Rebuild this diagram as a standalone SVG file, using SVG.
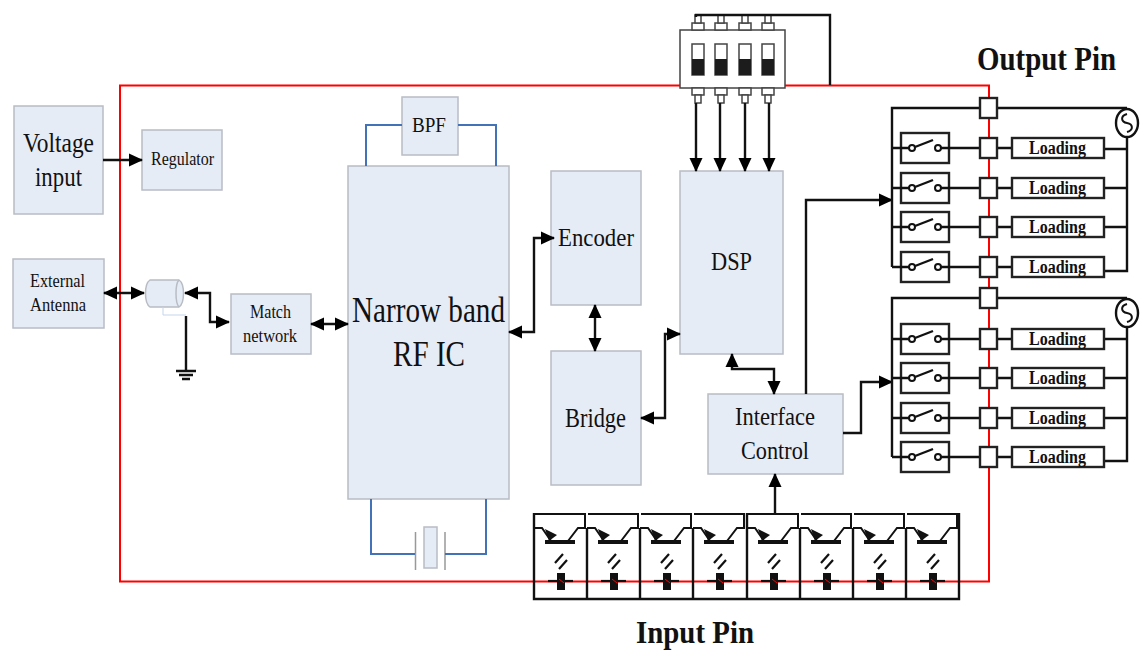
<svg xmlns="http://www.w3.org/2000/svg" xmlns:xlink="http://www.w3.org/1999/xlink" width="1140" height="650" viewBox="0 0 1140 650">
<style>
text{font-family:"Liberation Serif","Times New Roman",serif;fill:#111}
.b{fill:#e6ecf6;stroke:#b8bcc4;stroke-width:1.5}
.w{fill:none;stroke:#111;stroke-width:2.4}
.blue{fill:none;stroke:#4472b8;stroke-width:2}
.m{fill:#fff;stroke:#222;stroke-width:2.4}
.h{font-weight:bold}
.t{fill:none;stroke:#111;stroke-width:2}
</style>
<defs>
<marker id="a" markerUnits="userSpaceOnUse" markerWidth="15" markerHeight="14" refX="13" refY="7" orient="auto-start-reverse"><path d="M0 0.500L14 7L0 13.500z" fill="#000"/></marker>
<g id="row">
<rect class="m" x="901" y="-15" width="48" height="30"/>
<path class="w" d="M892 0H909M941 0H980M997 0H1012"/>
<circle cx="912" cy="0" r="3" fill="#fff" stroke="#111" stroke-width="2"/>
<circle cx="938" cy="0" r="3" fill="#fff" stroke="#111" stroke-width="2"/>
<path class="w" d="M915 -1L933 -8"/>
<rect class="m" x="980" y="-10" width="17" height="20"/>
<rect class="m" x="1012" y="-10" width="92" height="20"/>
<text class="h" x="1029" y="6" font-size="18" textLength="57" lengthAdjust="spacingAndGlyphs">Loading</text>
</g>
<g id="cell">
<path class="t" d="M1 1H51V15H44L34 28M0 15H8L17 28"/>
<path d="M11 16L23 22L15 28z" fill="#111"/>
<rect x="11" y="27" width="30" height="4" fill="#111"/>
<path d="M29 41L21 50M33 47L25 56" fill="none" stroke="#111" stroke-width="2.200"/>
<path d="M14 68H39" stroke="#111" stroke-width="2.200"/>
<path d="M23 60L31 60V77L23 77z" fill="#111"/>
<path d="M25 66L30 70" stroke="#f00" stroke-width="1"/>
</g>
<g id="pin"><rect x="-6" y="7" width="12" height="7" fill="#fff" stroke="#444" stroke-width="1.500"/><rect x="-3" y="14" width="6" height="8" fill="#fff" stroke="#444" stroke-width="1.500"/></g>
<g id="tog"><rect x="-6" y="0" width="12" height="31" fill="#fff" stroke="#444" stroke-width="1.500"/><rect x="-6" y="15" width="12" height="16" fill="#1c1c1c"/></g>
</defs>

<g id="frame"><rect x="120" y="85.500" width="869" height="496" fill="none" stroke="#f00" stroke-width="2"/></g>

<g id="voltage"><rect class="b" x="14" y="106" width="89" height="108"/><text x="23" y="152" font-size="27" textLength="71" lengthAdjust="spacingAndGlyphs">Voltage</text><text x="35" y="186" font-size="27" textLength="47" lengthAdjust="spacingAndGlyphs">input</text></g>
<g id="regulator"><rect class="b" x="142" y="130" width="80" height="60"/><text x="151" y="165" font-size="18" textLength="63" lengthAdjust="spacingAndGlyphs">Regulator</text></g>
<g id="antenna"><rect class="b" x="13" y="259" width="91" height="69"/><text x="30" y="287" font-size="18" textLength="55" lengthAdjust="spacingAndGlyphs">External</text><text x="30" y="311" font-size="18" textLength="56" lengthAdjust="spacingAndGlyphs">Antenna</text></g>
<g id="coax"><path d="M150 280H179C185 284 185 303 179 307H150C144 303 144 284 150 280z" class="b"/><path d="M179 280C175 284 175 303 179 307" fill="none" stroke="#b8bcc4" stroke-width="1.500"/></g>
<g id="match"><rect class="b" x="231" y="294" width="80" height="60"/><text x="250" y="318" font-size="18" textLength="41" lengthAdjust="spacingAndGlyphs">Match</text><text x="243" y="342" font-size="18" textLength="54" lengthAdjust="spacingAndGlyphs">network</text></g>
<g id="rfic"><rect class="b" x="348" y="166" width="161" height="333"/><text x="352" y="322" font-size="36" textLength="153" lengthAdjust="spacingAndGlyphs">Narrow band</text><text x="393" y="366" font-size="36" textLength="72" lengthAdjust="spacingAndGlyphs">RF IC</text></g>
<g id="bpf"><rect class="b" x="402" y="97" width="56" height="58"/><text x="412" y="132" font-size="21" textLength="34" lengthAdjust="spacingAndGlyphs">BPF</text></g>
<g id="crystal"><rect class="b" x="424" y="527" width="13" height="41"/><path d="M415.500 532V570M445 532V570" stroke="#999" stroke-width="1.500"/></g>
<g id="encoder"><rect class="b" x="551" y="171" width="90" height="134"/><text x="558" y="246" font-size="26" textLength="76" lengthAdjust="spacingAndGlyphs">Encoder</text></g>
<g id="bridge"><rect class="b" x="551" y="351" width="90" height="134"/><text x="565" y="427" font-size="27" textLength="61" lengthAdjust="spacingAndGlyphs">Bridge</text></g>
<g id="dsp"><rect class="b" x="680" y="171" width="103" height="183"/><text x="711" y="270" font-size="26" textLength="41" lengthAdjust="spacingAndGlyphs">DSP</text></g>
<g id="interface"><rect class="b" x="708" y="394" width="135" height="80"/><text x="735" y="425" font-size="26" textLength="80" lengthAdjust="spacingAndGlyphs">Interface</text><text x="741" y="459" font-size="26" textLength="68" lengthAdjust="spacingAndGlyphs">Control</text></g>

<g id="dip">
<rect x="680" y="30" width="105" height="58" fill="#fff" stroke="#444" stroke-width="1.500"/>
<use xlink:href="#tog" href="#tog" x="698" y="44"/><use xlink:href="#tog" href="#tog" x="721" y="44"/><use xlink:href="#tog" href="#tog" x="745" y="44"/><use xlink:href="#tog" href="#tog" x="768" y="44"/>
<use xlink:href="#pin" href="#pin" x="698" y="81"/><use xlink:href="#pin" href="#pin" x="721" y="81"/><use xlink:href="#pin" href="#pin" x="745" y="81"/><use xlink:href="#pin" href="#pin" x="768" y="81"/>
<g transform="translate(0,37) scale(1,-1)"><use xlink:href="#pin" href="#pin" x="698" y="0"/><use xlink:href="#pin" href="#pin" x="721" y="0"/><use xlink:href="#pin" href="#pin" x="745" y="0"/><use xlink:href="#pin" href="#pin" x="768" y="0"/></g>
</g>

<g id="connectors">
<path class="blue" d="M366 166V125H402M458 125H496V166M371 499V554H415M445 554H486V499"/>
<path class="w" marker-end="url(#a)" d="M103 160H142"/>
<path class="w" marker-start="url(#a)" marker-end="url(#a)" d="M104 293H144"/>
<path class="w" marker-start="url(#a)" marker-end="url(#a)" d="M185 293H210V322H229"/>
<path d="M163 307V315H186" fill="none" stroke="#c5d5ea" stroke-width="1"/>
<path class="w" d="M186 316V370M176 371H196M179 375H193M182 379H190"/>
<path class="w" marker-start="url(#a)" marker-end="url(#a)" d="M311 324H348"/>
<path class="w" marker-start="url(#a)" marker-end="url(#a)" d="M509 332H534V238H554"/>
<path class="w" marker-start="url(#a)" marker-end="url(#a)" d="M595 305V351"/>
<path class="w" marker-start="url(#a)" marker-end="url(#a)" d="M641 418H665V334H680"/>
<path class="w" marker-start="url(#a)" marker-end="url(#a)" d="M732 354V369H774V394"/>
<path class="w" marker-end="url(#a)" d="M806 394V200H892"/>
<path class="w" marker-end="url(#a)" d="M843 433H861V382H892"/>
<path class="w" marker-end="url(#a)" d="M775 513V474"/>
<path class="w" d="M696 17V15H830V85"/>
<path class="w" marker-end="url(#a)" d="M696 103V171"/>
<path class="w" marker-end="url(#a)" d="M720 103V171"/>
<path class="w" marker-end="url(#a)" d="M745 103V171"/>
<path class="w" marker-end="url(#a)" d="M769 103V171"/>
</g>

<g id="output1">
<path class="w" d="M892 267V108H1127M1127 137V271H1104M1104 149H1127M1104 188H1127M1104 227H1127"/>
<rect class="m" x="980" y="98" width="17" height="20"/>
<ellipse cx="1127" cy="123" rx="11" ry="14" fill="#fff" stroke="#111" stroke-width="2.400"/>
<path d="M1127 114C1120 116 1121 122 1127 123C1133 124 1134 130 1127 132" fill="none" stroke="#111" stroke-width="2"/>
<use xlink:href="#row" href="#row" y="148"/><use xlink:href="#row" href="#row" y="188"/><use xlink:href="#row" href="#row" y="227"/><use xlink:href="#row" href="#row" y="267"/>
</g>
<g id="output2">
<path class="w" d="M892 457V298H1127M1127 327V461H1104M1104 339H1127M1104 378H1127M1104 418H1127"/>
<rect class="m" x="980" y="288" width="17" height="20"/>
<ellipse cx="1127" cy="313" rx="11" ry="14" fill="#fff" stroke="#111" stroke-width="2.400"/>
<path d="M1127 304C1120 306 1121 312 1127 313C1133 314 1134 320 1127 322" fill="none" stroke="#111" stroke-width="2"/>
<use xlink:href="#row" href="#row" y="339"/><use xlink:href="#row" href="#row" y="378"/><use xlink:href="#row" href="#row" y="418"/><use xlink:href="#row" href="#row" y="457"/>
</g>

<g id="inputs">
<path class="w" d="M534 513V599H959V513M587 528V599M640 528V599M693 528V599M747 513V599M800 528V599M853 528V599M906 528V599"/>
<use xlink:href="#cell" href="#cell" x="534" y="513"/><use xlink:href="#cell" href="#cell" x="587" y="513"/><use xlink:href="#cell" href="#cell" x="640" y="513"/><use xlink:href="#cell" href="#cell" x="693" y="513"/><use xlink:href="#cell" href="#cell" x="747" y="513"/><use xlink:href="#cell" href="#cell" x="800" y="513"/><use xlink:href="#cell" href="#cell" x="853" y="513"/><use xlink:href="#cell" href="#cell" x="906" y="513"/>
</g>

<g id="labels">
<text class="h" x="977" y="70" font-size="33" textLength="139" lengthAdjust="spacingAndGlyphs">Output Pin</text>
<text class="h" x="636" y="643" font-size="32" textLength="118" lengthAdjust="spacingAndGlyphs">Input Pin</text>
</g>
</svg>
